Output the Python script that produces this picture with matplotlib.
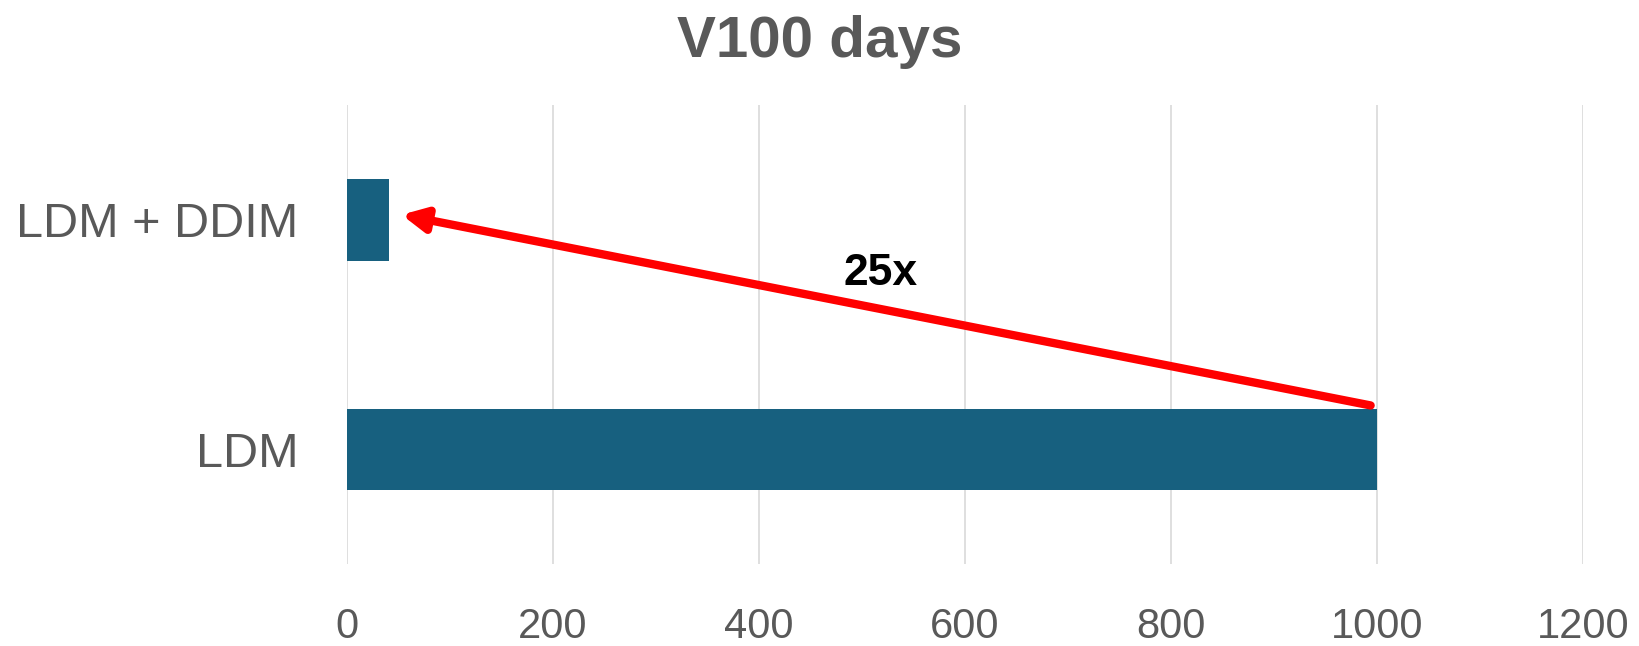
import matplotlib
matplotlib.use("Agg")
from matplotlib import pyplot as plt

#Data
categories = ["LDM", "LDM + DDIM"]
days = [1000, 41]
speedup_label = "25x"

#Style
bar_color = "#17607f"
text_color = "#595959"
grid_color = "#d9d9d9"
plt.rcParams['font.family'] = ['Liberation Sans', 'DejaVu Sans']

fig = plt.figure(figsize=(16.39, 6.46), dpi=100)
ax = fig.add_axes([0.2117, 0.1269, 0.7540, 0.7105])

ypos = list(range(len(categories)))
ax.barh(ypos, days, height=0.355, color=bar_color, zorder=3)

ax.set_xlim(0, 1200)
ax.set_ylim(-0.5, 1.5)
ax.set_xticks([0, 200, 400, 600, 800, 1000, 1200])
ax.set_yticks(ypos)
ax.set_yticklabels(categories)
ax.tick_params(axis='x', length=0, pad=31, labelsize=30, labelcolor=text_color)
ax.tick_params(axis='y', length=0, pad=35, labelsize=35, labelcolor=text_color)
ax.xaxis.grid(True, color=grid_color, linewidth=1.2, zorder=0)
for s in ax.spines.values():
    s.set_visible(False)

#Speed-up arrow from LDM bar to LDM + DDIM bar
ax.annotate("", xy=(days[1] + 12, 1.022), xytext=(days[0] - 6, 0.191),
            arrowprops=dict(arrowstyle="-|>,head_length=1.4,head_width=0.7",
                            color="#ff0000", lw=6, shrinkA=0, shrinkB=0),
            zorder=5)
ax.text(518, 0.765, speedup_label, fontsize=32, fontweight='bold',
        color="black", ha='center', va='center', zorder=6)

fig.text(0.5, 0.911, "V100 days", fontsize=42, fontweight='bold',
         color=text_color, ha='center', va='baseline')

fig.savefig("out.png", dpi=100)
